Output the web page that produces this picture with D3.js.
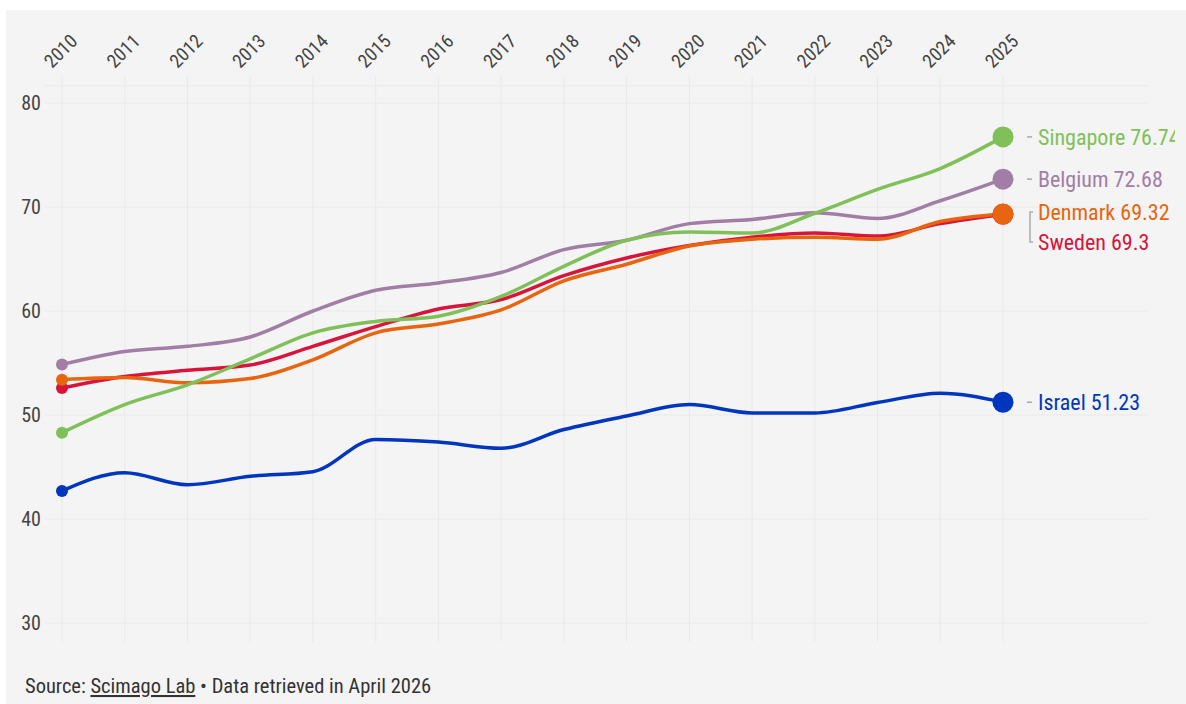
<!DOCTYPE html>
<html>
<head>
<meta charset="utf-8">
<script src="https://cdn.jsdelivr.net/npm/d3@7"></script>
<style>
  body { margin: 0; background: #fff; }
  svg { display: block; font-family: "Roboto Condensed", "Liberation Sans Narrow", "DejaVu Sans Condensed", sans-serif; }
</style>
</head>
<body>
<svg id="chart" width="1186" height="704"></svg>
<script>
// данные
const years = [2010, 2011, 2012, 2013, 2014, 2015, 2016, 2017, 2018, 2019, 2020, 2021, 2022, 2023, 2024, 2025];
const yTicks = [30, 40, 50, 60, 70, 80];

const singapore = [48.3, 51.0, 52.9, 55.4, 57.9, 59.0, 59.5, 61.4, 64.3, 66.8, 67.6, 67.5, 69.4, 71.7, 73.7, 76.74];
const belgium   = [54.85, 56.1, 56.6, 57.5, 60.0, 62.0, 62.7, 63.7, 65.9, 66.8, 68.4, 68.8, 69.45, 68.9, 70.6, 72.68];
const denmark   = [53.4, 53.6, 53.1, 53.5, 55.3, 57.9, 58.75, 60.1, 62.9, 64.5, 66.25, 66.9, 67.1, 66.9, 68.6, 69.32];
const sweden    = [52.6, 53.7, 54.3, 54.8, 56.6, 58.5, 60.2, 61.1, 63.4, 65.1, 66.3, 67.1, 67.5, 67.2, 68.4, 69.3];
const israel    = [42.7, 44.45, 43.3, 44.1, 44.55, 47.65, 47.4, 46.8, 48.6, 49.9, 51.0, 50.2, 50.2, 51.2, 52.1, 51.23];

const series = [
    { name: "Sweden",    values: sweden,    color: "#d7143c", label: "Sweden 69.3" },
    { name: "Denmark",   values: denmark,   color: "#e8650f", label: "Denmark 69.32" },
    { name: "Belgium",   values: belgium,   color: "#a27ea6", label: "Belgium 72.68" },
    { name: "Singapore", values: singapore, color: "#7fc059", label: "Singapore 76.74" },
    { name: "Israel",    values: israel,    color: "#0036bd", label: "Israel 51.23" }
];

const svg = d3.select("#chart");

// панель фона
svg.append("rect")
    .attr("x", 6).attr("y", 10)
    .attr("width", 1180).attr("height", 694)
    .attr("fill", "#f4f4f4");

const x = d3.scaleLinear().domain([2010, 2025]).range([62, 1003]);
const y = d3.scaleLinear().domain([30, 80]).range([623, 103]);

// --- сетка ---
const grid = svg.append("g").attr("stroke", "#e9e9e9").attr("stroke-width", 1);
grid.selectAll("line.v")
    .data(years)
    .enter().append("line")
    .attr("x1", d => x(d)).attr("x2", d => x(d))
    .attr("y1", 76).attr("y2", 642);
grid.selectAll("line.h")
    .data(yTicks)
    .enter().append("line")
    .attr("x1", 45).attr("x2", 1148)
    .attr("y1", d => y(d)).attr("y2", d => y(d));
grid.append("line")
    .attr("x1", 45).attr("x2", 1148)
    .attr("y1", y(81.65)).attr("y2", y(81.65));

// подписи оси Y
svg.append("g")
    .selectAll("text")
    .data(yTicks)
    .enter().append("text")
    .attr("x", 41)
    .attr("y", d => y(d))
    .attr("dy", "0.35em")
    .attr("text-anchor", "end")
    .attr("fill", "#444")
    .style("font-size", "20px")
    .text(d => d);

// подписи годов сверху (повернутые)
svg.append("g")
    .selectAll("text")
    .data(years)
    .enter().append("text")
    .attr("transform", d => `translate(${x(d) - 10},${69}) rotate(-45)`)
    .attr("fill", "#444")
    .style("font-size", "19px")
    .text(d => d);

// --- линии ---
const line = d3.line()
    .x((d, i) => x(years[i]))
    .y(d => y(d))
    .curve(d3.curveMonotoneX);

series.forEach(s => {
    svg.append("path")
        .datum(s.values)
        .attr("fill", "none")
        .attr("stroke", s.color)
        .attr("stroke-width", 3.5)
        .attr("stroke-linecap", "round")
        .attr("d", line);
});

// начальные точки
series.forEach(s => {
    svg.append("circle")
        .attr("cx", x(years[0]))
        .attr("cy", y(s.values[0]))
        .attr("r", 6)
        .attr("fill", s.color);
});

// конечные точки
series.forEach(s => {
    svg.append("circle")
        .attr("cx", x(years[years.length - 1]))
        .attr("cy", y(s.values[s.values.length - 1]))
        .attr("r", 10.5)
        .attr("fill", s.color);
});

// --- подписи справа ---
svg.append("clipPath").attr("id", "clipLabels")
    .append("rect").attr("x", 0).attr("y", 0).attr("width", 1175).attr("height", 704);

const labels = svg.append("g").attr("clip-path", "url(#clipLabels)");
const labelPos = {
    Singapore: y(76.74),
    Belgium: y(72.68),
    Denmark: y(69.32) - 2,
    Sweden: y(69.32) + 28,
    Israel: y(51.23)
};

series.forEach(s => {
    const ly = labelPos[s.name];
    labels.append("text")
        .attr("x", 1038)
        .attr("y", ly)
        .attr("dy", "0.35em")
        .attr("fill", s.color)
        .style("font-size", "22px")
        .text(s.label);
});

// маленькие тире
["Singapore", "Belgium", "Israel"].forEach(n => {
    labels.append("line")
        .attr("x1", 1027).attr("x2", 1032)
        .attr("y1", labelPos[n]).attr("y2", labelPos[n])
        .attr("stroke", "#aaa").attr("stroke-width", 1.5);
});

// скобка для Дании и Швеции
labels.append("path")
    .attr("d", `M1033,${labelPos.Denmark} H1030 V${labelPos.Sweden} H1033`)
    .attr("fill", "none")
    .attr("stroke", "#aaa")
    .attr("stroke-width", 1.5);

// источник
const src = svg.append("text")
    .attr("x", 25)
    .attr("y", 693)
    .attr("fill", "#333")
    .style("font-size", "20.5px");
src.append("tspan").text("Source: ");
src.append("tspan").style("text-decoration", "underline").text("Scimago Lab");
src.append("tspan").text(" • Data retrieved in April 2026");
</script>
</body>
</html>
